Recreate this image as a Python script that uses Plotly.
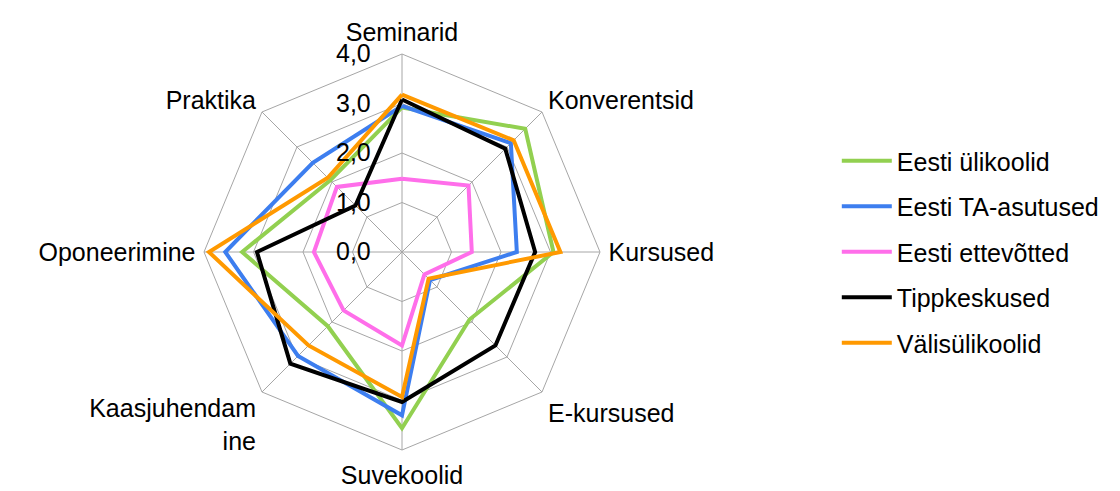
import plotly.graph_objects as go

categories = ["Seminarid", "Konverentsid", "Kursused", "E-kursused",
              "Suvekoolid", "Kaasjuhendamine", "Oponeerimine", "Praktika"]
category_labels = ["Seminarid", "Konverentsid", "Kursused", "E-kursused",
                   "Suvekoolid", "Kaasjuhendam<br>ine", "Oponeerimine", "Praktika"]

series_names = ["Eesti ülikoolid", "Eesti TA-asutused", "Eesti ettevõtted",
                "Tippkeskused", "Välisülikoolid"]
eesti_ylikoolid = [2.92, 3.52, 3.06, 1.93, 3.56, 2.12, 3.23, 2.05]
eesti_ta_asutused = [2.95, 3.11, 2.32, 0.80, 3.30, 2.97, 3.57, 2.55]
eesti_ettevotted = [1.48, 1.90, 1.41, 0.64, 1.89, 1.67, 1.78, 1.86]
tippkeskused = [3.08, 2.95, 2.69, 2.67, 3.03, 3.19, 2.93, 1.33]
valisylikoolid = [3.18, 3.19, 3.20, 0.76, 2.93, 2.67, 3.90, 2.12]

radial_ticks = [0, 1, 2, 3, 4]

colors = ["#92D050", "#3D7EEF", "#FF6EEA", "#000000", "#FF9900"]
all_values = [eesti_ylikoolid, eesti_ta_asutused, eesti_ettevotted,
              tippkeskused, valisylikoolid]

fig = go.Figure()
for i, (name, vals, col) in enumerate(zip(series_names, all_values, colors)):
    fig.add_trace(go.Scatterpolar(
        r=vals + vals[:1],
        theta=categories + categories[:1],
        mode="lines",
        name=name,
        line=dict(color=col, width=4),
        legendgroup=f"g{i}",
    ))

W, H = 1120, 491
cx, cy, R = 394, 244, 198
fig.update_layout(
    width=W, height=H,
    margin=dict(l=0, r=0, t=0, b=0),
    paper_bgcolor="white",
    separators=",.",
    font=dict(family="Liberation Sans, Arial, sans-serif", size=25, color="#000000"),
    polar=dict(
        domain=dict(x=[(cx - R) / W, (cx + R) / W],
                    y=[(H - cy - R) / H, (H - cy + R) / H]),
        gridshape="linear",
        bgcolor="white",
        radialaxis=dict(
            range=[0, 4],
            tickvals=radial_ticks,
            tickformat=".1f",
            angle=90,
            side="counterclockwise",
            showline=False,
            gridcolor="#A6A6A6",
            gridwidth=1,
            ticks="outside",
            ticklen=22,
            tickcolor="rgba(0,0,0,0)",
            tickangle=90,
            tickfont=dict(size=25, color="#000000"),
        ),
        angularaxis=dict(
            direction="clockwise",
            rotation=90,
            categoryorder="array",
            categoryarray=categories,
            tickmode="array",
            tickvals=categories,
            ticktext=category_labels,
            showline=True,
            linecolor="#A6A6A6",
            linewidth=1,
            gridcolor="#A6A6A6",
            gridwidth=1,
            ticks="outside",
            ticklen=3,
            tickcolor="rgba(0,0,0,0)",
            tickfont=dict(size=25, color="#000000"),
        ),
    ),
    legend=dict(
        x=0.74, y=0.735, xanchor="left", yanchor="top",
        traceorder="grouped",
        tracegroupgap=10,
        font=dict(size=25),
        itemwidth=50,
    ),
)

fig.write_html("out.html")
